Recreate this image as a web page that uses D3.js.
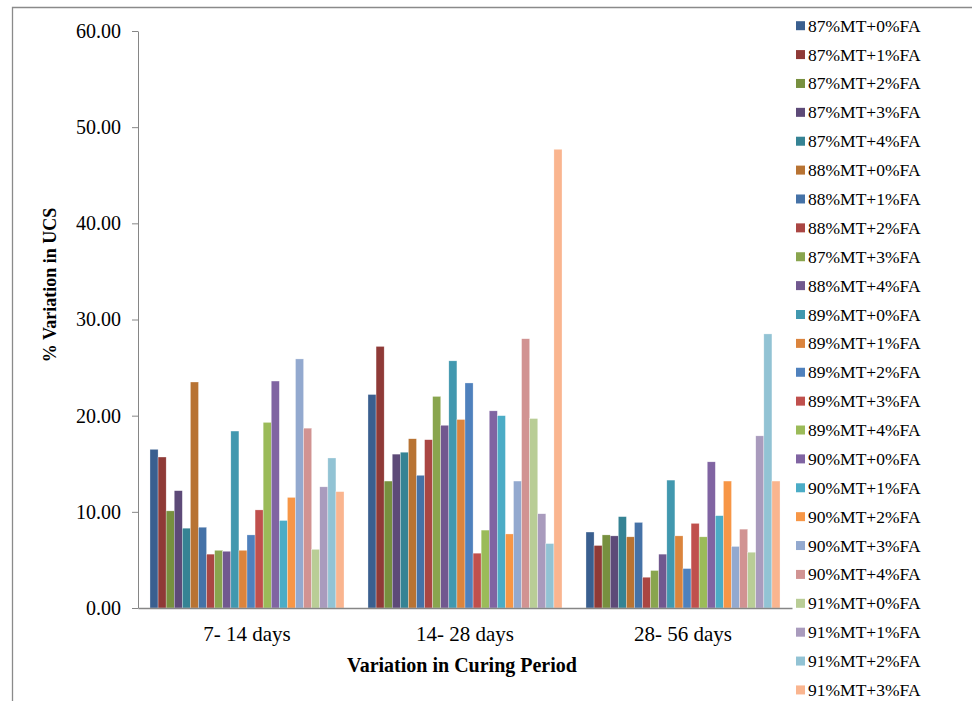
<!DOCTYPE html>
<html>
<head>
<meta charset="utf-8">
<script src="https://cdn.jsdelivr.net/npm/d3@7"></script>
<style>
  body { margin: 0; background: #fff; }
  svg text { font-family: "Liberation Serif", "Times New Roman", serif; fill: #000; }
</style>
</head>
<body>
<svg id="chart" width="972" height="701"></svg>
<script>
"use strict";

// curing period groups
var categories = ["7- 14 days", "14- 28 days", "28- 56 days"];

// one series per mix (legend order, label typo kept as in the source)
var seriesNames = [
  "87%MT+0%FA", "87%MT+1%FA", "87%MT+2%FA", "87%MT+3%FA", "87%MT+4%FA",
  "88%MT+0%FA", "88%MT+1%FA", "88%MT+2%FA", "87%MT+3%FA", "88%MT+4%FA",
  "89%MT+0%FA", "89%MT+1%FA", "89%MT+2%FA", "89%MT+3%FA", "89%MT+4%FA",
  "90%MT+0%FA", "90%MT+1%FA", "90%MT+2%FA", "90%MT+3%FA", "90%MT+4%FA",
  "91%MT+0%FA", "91%MT+1%FA", "91%MT+2%FA", "91%MT+3%FA"
];

// % variation in UCS, one value per series, for each curing period
var days7to14 = [16.5, 15.7, 10.1, 12.2, 8.3, 23.5, 8.4, 5.6, 6.0, 5.9, 18.4, 6.0,
                 7.6, 10.2, 19.3, 23.6, 9.1, 11.5, 25.9, 18.7, 6.1, 12.6, 15.6, 12.1];
var days14to28 = [22.2, 27.2, 13.2, 16.0, 16.2, 17.6, 13.8, 17.5, 22.0, 19.0, 25.7, 19.6,
                  23.4, 5.7, 8.1, 20.5, 20.0, 7.7, 13.2, 28.0, 19.7, 9.8, 6.7, 47.7];
var days28to56 = [7.9, 6.5, 7.6, 7.5, 9.5, 7.4, 8.9, 3.2, 3.9, 5.6, 13.3, 7.5,
                  4.1, 8.8, 7.4, 15.2, 9.6, 13.2, 6.4, 8.2, 5.8, 17.9, 28.5, 13.2];

var yTicks = [0, 10, 20, 30, 40, 50, 60];

var colors = [
  "#3a5f8f", "#8f3a37", "#77903f", "#5d4a78", "#358394",
  "#b87333", "#4572a7", "#aa4643", "#89a54e", "#71588f",
  "#4198af", "#db843d", "#4f81bd", "#c0504d", "#9bbb59",
  "#8064a2", "#4bacc6", "#f79646", "#93a9cf", "#d19392",
  "#b9cd96", "#a99bbd", "#92c3d4", "#fab58f"
];

var table = [days7to14, days14to28, days28to56].map(function(vals, i) {
  return { category: categories[i], values: vals };
});

var serif = "'Liberation Serif', 'Times New Roman', serif";
var svg = d3.select("#chart");
var axisColor = "#868686";

// outer frame of the chart object (only left and top edges are in view)
svg.append("path")
  .attr("d", "M12.5,701 V7.5 H972")
  .attr("fill", "none")
  .attr("stroke", "#8a8a8a")
  .attr("stroke-width", 1.3);

var plot = { left: 138, right: 792, top: 31, bottom: 608 };

var x0 = d3.scaleBand()
  .domain(categories)
  .range([plot.left, plot.right])
  .paddingInner(0.11)
  .paddingOuter(0.055);

var x1 = d3.scaleBand()
  .domain(d3.range(seriesNames.length))
  .range([0, x0.bandwidth()]);

var y = d3.scaleLinear()
  .domain([0, 60])
  .range([plot.bottom, plot.top]);

var color = d3.scaleOrdinal()
  .domain(d3.range(seriesNames.length))
  .range(colors);

// bars
var groups = svg.selectAll(".group")
  .data(table)
  .enter()
  .append("g")
  .attr("class", "group")
  .attr("transform", function(d) { return "translate(" + x0(d.category) + ",0)"; });

groups.selectAll("rect")
  .data(function(d) { return d.values; })
  .enter()
  .append("rect")
  .attr("x", function(d, i) { return x1(i); })
  .attr("y", function(d) { return y(d); })
  .attr("width", x1.bandwidth())
  .attr("height", function(d) { return y(0) - y(d); })
  .attr("fill", function(d, i) { return color(i); })
  .attr("stroke", "#fff")
  .attr("stroke-width", 0.5)
  .attr("stroke-opacity", 0.6);

// y axis
var yAxis = d3.axisLeft(y)
  .tickValues(yTicks)
  .tickFormat(d3.format(".2f"))
  .tickSizeInner(6)
  .tickSizeOuter(0)
  .tickPadding(11);

var gy = svg.append("g")
  .attr("transform", "translate(" + plot.left + ",0)")
  .call(yAxis);
gy.select(".domain").attr("stroke", axisColor);
gy.selectAll(".tick line").attr("stroke", axisColor);
gy.selectAll(".tick text")
  .style("font-family", serif)
  .style("font-size", "20px")
  .attr("fill", "#000");

// x axis (no ticks, labels only)
var xAxis = d3.axisBottom(x0)
  .tickSize(0)
  .tickPadding(18);

var gx = svg.append("g")
  .attr("transform", "translate(0," + plot.bottom + ")")
  .call(xAxis);
gx.select(".domain").attr("stroke", axisColor).attr("stroke-width", 1.5);
gx.selectAll(".tick text")
  .style("font-family", serif)
  .style("font-size", "21px")
  .attr("fill", "#000");

// axis titles
svg.append("text")
  .attr("transform", "translate(56,285) rotate(-90)")
  .attr("text-anchor", "middle")
  .style("font-family", serif)
  .style("font-size", "18px")
  .style("font-weight", "bold")
  .text("% Variation in UCS");

svg.append("text")
  .attr("x", 462)
  .attr("y", 672)
  .attr("text-anchor", "middle")
  .style("font-family", serif)
  .style("font-size", "20px")
  .style("font-weight", "bold")
  .text("Variation in Curing Period");

// legend
var legend = svg.selectAll(".legend")
  .data(seriesNames)
  .enter()
  .append("g")
  .attr("class", "legend")
  .attr("transform", function(d, i) { return "translate(796," + (25.7 + i * 28.88) + ")"; });

legend.append("rect")
  .attr("x", 0)
  .attr("y", -4.5)
  .attr("width", 9)
  .attr("height", 9)
  .attr("fill", function(d, i) { return color(i); });

legend.append("text")
  .attr("x", 12)
  .attr("y", 6)
  .style("font-family", serif)
  .style("font-size", "17.5px")
  .text(function(d) { return d; });
</script>
</body>
</html>
